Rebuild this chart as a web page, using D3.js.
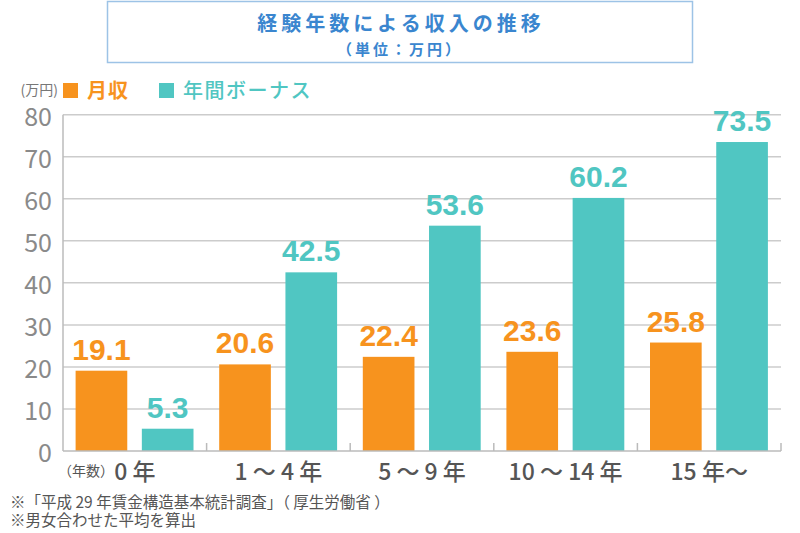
<!DOCTYPE html>
<html><head><meta charset="utf-8">
<script src="https://cdn.jsdelivr.net/npm/d3@7"></script>
<style>
html,body{margin:0;padding:0;background:#fff;}
svg{display:block;}
</style>
</head><body>
<svg id="c" width="800" height="533"></svg>
<script>
const categories = ["0 年", "1 ～ 4 年", "5 ～ 9 年", "10 ～ 14 年", "15 年～"];
const seriesNames = ["月収", "年間ボーナス"];
const monthly = [19.1, 20.6, 22.4, 23.6, 25.8];
const bonus = [5.3, 42.5, 53.6, 60.2, 73.5];
const yTicks = [0, 10, 20, 30, 40, 50, 60, 70, 80];
const colors = ["#F7931E", "#50C6C2"];
const title = "経験年数による収入の推移";
const subtitle = "（単位：万円）";
const notes = ["※「平成 29 年賃金構造基本統計調査」（ 厚生労働省 ）", "※男女合わせた平均を算出"];

const svg = d3.select("#c");
const cjk = "'Noto Sans CJK JP', 'Noto Sans', sans-serif";
const narrow = "'Liberation Sans Narrow', 'Noto Sans CJK JP', sans-serif";

// title box
svg.append("rect").attr("x", 107.5).attr("y", 1.5).attr("width", 585).attr("height", 61)
  .attr("fill", "#fff").attr("stroke", "#9DC3E6").attr("stroke-width", 1.5);
svg.append("text").attr("x", 401).attr("y", 31).attr("text-anchor", "middle")
  .attr("font-family", cjk).attr("font-weight", 700).attr("font-size", 20)
  .attr("letter-spacing", 4).attr("fill", "#3A86CF").text(title);
svg.append("text").attr("x", 400).attr("y", 55).attr("text-anchor", "middle")
  .attr("font-family", cjk).attr("font-weight", 700).attr("font-size", 15)
  .attr("letter-spacing", 3).attr("fill", "#3A86CF").text(subtitle);

const margin = {left: 63, right: 781, top: 114.7, bottom: 451};
const x = d3.scaleBand().domain(categories).range([margin.left, margin.right]).padding(0);
const xs = d3.scaleBand().domain(seriesNames).range([12.6, 130.5]).paddingInner(0.22).paddingOuter(0);
const y = d3.scaleLinear().domain([0, 80]).range([margin.bottom, margin.top]);

// unit + legend
svg.append("text").attr("x", 58).attr("y", 95).attr("text-anchor", "end").attr("font-family", cjk).attr("font-size", 14)
  .attr("fill", "#777").text("(万円)");
const legendX = [63, 159];
seriesNames.forEach((s, i) => {
  svg.append("rect").attr("x", legendX[i]).attr("y", 83).attr("width", 15).attr("height", 15).attr("fill", colors[i]);
  svg.append("text").attr("x", legendX[i] + 24).attr("y", 98)
    .attr("font-family", cjk).attr("font-weight", i === 0 ? 700 : 500).attr("font-size", 20)
    .attr("letter-spacing", i === 0 ? 1 : 1.5).attr("fill", colors[i]).text(s);
});

// gridlines
const g = svg.append("g");
g.selectAll("line.grid").data(yTicks.filter(d => d > 0)).join("line")
  .attr("x1", margin.left).attr("x2", margin.right)
  .attr("y1", d => y(d)).attr("y2", d => y(d))
  .attr("stroke", "#CCCCCC").attr("stroke-width", 1.5);

// y tick labels
g.selectAll("text.yt").data(yTicks).join("text")
  .attr("x", 52).attr("y", d => y(d) + 11).attr("text-anchor", "end")
  .attr("font-family", narrow).attr("font-size", 25).attr("fill", "#8A8A8A").text(d => d);

// bars
const data = categories.map((c, i) => ({c, vals: [monthly[i], bonus[i]]}));
const groups = g.selectAll("g.grp").data(data).join("g").attr("transform", d => `translate(${x(d.c)},0)`);
groups.selectAll("rect").data(d => d.vals.map((v, i) => ({s: seriesNames[i], v, i}))).join("rect")
  .attr("x", d => xs(d.s)).attr("width", xs.bandwidth())
  .attr("y", d => y(d.v)).attr("height", d => y(0) - y(d.v))
  .attr("fill", d => colors[d.i]);
groups.selectAll("text").data(d => d.vals.map((v, i) => ({s: seriesNames[i], v, i}))).join("text")
  .attr("x", d => xs(d.s) + xs.bandwidth() / 2).attr("y", d => y(d.v) - 11)
  .attr("text-anchor", "middle").attr("font-family", "'Liberation Sans', Arial, sans-serif")
  .attr("font-weight", 700).attr("font-size", 30).attr("fill", d => colors[d.i])
  .text(d => d.v.toFixed(1));

// axes lines
g.append("line").attr("x1", margin.left).attr("x2", margin.left).attr("y1", margin.top).attr("y2", margin.bottom)
  .attr("stroke", "#BBBBBB").attr("stroke-width", 1.5);
g.append("line").attr("x1", margin.left).attr("x2", margin.right).attr("y1", margin.bottom).attr("y2", margin.bottom)
  .attr("stroke", "#BBBBBB").attr("stroke-width", 1.5);
const boundaries = categories.map(c => x(c) + x.bandwidth());
g.selectAll("line.tk").data(boundaries).join("line")
  .attr("x1", d => d).attr("x2", d => d).attr("y1", margin.bottom - 8).attr("y2", margin.bottom)
  .attr("stroke", "#BBBBBB").attr("stroke-width", 1.5);

// x labels
g.selectAll("text.xl").data(categories).join("text")
  .attr("x", d => x(d) + x.bandwidth() / 2).attr("y", 480).attr("text-anchor", "middle")
  .attr("font-family", narrow).attr("font-weight", 500).attr("font-size", 23).attr("fill", "#555")
  .text(d => d);
svg.append("text").attr("x", 58).attr("y", 476).attr("font-family", cjk).attr("font-size", 14)
  .attr("fill", "#555").text("（年数）");

// notes
notes.forEach((n, i) => {
  svg.append("text").attr("x", 10).attr("y", 508 + i * 18).attr("font-family", cjk).attr("font-size", 15.5)
    .attr("fill", "#555").text(n);
});
</script>
</body></html>
